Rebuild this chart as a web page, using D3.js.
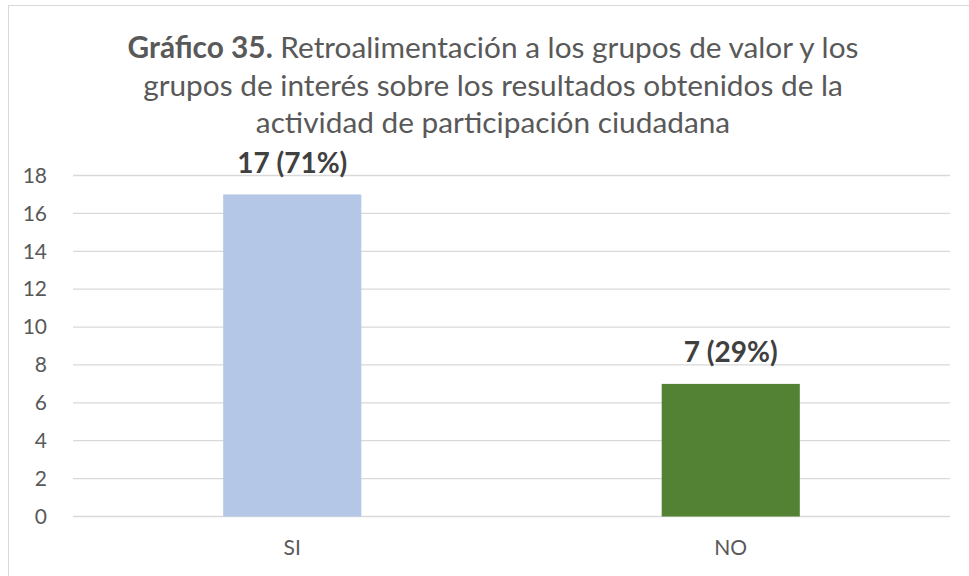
<!DOCTYPE html>
<html>
<head>
<meta charset="utf-8">
<script src="https://cdn.jsdelivr.net/npm/d3@7"></script>
<style>
  body { margin: 0; background: #fff; }
  text { font-family: Lato, "Open Sans", sans-serif; }
</style>
</head>
<body>
<div id="chart"></div>
<script>
const categories = ['SI', 'NO'];
const values = [17, 7];
const labels = ['17 (71%)', '7 (29%)'];
const colors = ['#B4C7E7', '#548235'];
const yTicks = [0, 2, 4, 6, 8, 10, 12, 14, 16, 18];
const titleBold = 'Gráfico 35.';
const titleLines = [
    ' Retroalimentación a los grupos de valor y los',
    'grupos de interés sobre los resultados obtenidos de la',
    'actividad de participación ciudadana'
];

const svgWidth = 969;
const svgHeight = 576;
const plot = { left: 73, right: 950, top: 175.5, bottom: 516.5 };

const svg = d3.select('#chart')
            .append('svg')
            .attr('width', svgWidth)
            .attr('height', svgHeight);

// chart frame (only top and left edges are in view)
svg.append('rect')
    .attr('x', 8.5).attr('y', 5.5)
    .attr('width', 1000).attr('height', 700)
    .attr('fill', '#fff')
    .attr('stroke', '#D9D9D9');

const x = d3.scaleBand()
            .domain(categories)
            .range([plot.left, plot.right]);
const y = d3.scaleLinear()
            .domain([0, 18])
            .range([plot.bottom, plot.top]);

const barWidth = x.bandwidth() * 0.315;

// gridlines
svg.append('g')
    .selectAll('line').data(yTicks).enter().append('line')
    .attr('x1', plot.left).attr('x2', plot.right)
    .attr('y1', d => y(d)).attr('y2', d => y(d))
    .attr('stroke', '#D9D9D9')
    .attr('stroke-width', 1.3);

// y axis labels
const leftAxis = d3.axisLeft(y).tickValues(yTicks).tickSize(0).tickPadding(26);
const yAxis = svg.append('g').attr('transform', `translate(${plot.left},0)`).call(leftAxis);
yAxis.select('.domain').remove();
yAxis.selectAll('text')
    .attr('fill', '#595959')
    .attr('font-size', 21)
    .attr('font-family', 'Lato');

// x axis labels
const bottomAxis = d3.axisBottom(x).tickSize(0).tickPadding(0);
const xAxis = svg.append('g').attr('transform', `translate(0,${plot.bottom})`).call(bottomAxis);
xAxis.select('.domain').remove();
xAxis.selectAll('text')
    .attr('y', 38.5)
    .attr('dy', 0)
    .attr('fill', '#595959')
    .attr('font-size', 21)
    .attr('font-family', 'Lato');

// bars
svg.selectAll('rect.bar').data(values).enter().append('rect')
    .attr('class', 'bar')
    .attr('x', (d, i) => x(categories[i]) + x.bandwidth() / 2 - barWidth / 2)
    .attr('y', d => y(d))
    .attr('width', barWidth)
    .attr('height', d => y(0) - y(d))
    .attr('fill', (d, i) => colors[i]);

// data labels
svg.selectAll('text.lbl').data(values).enter().append('text')
    .attr('class', 'lbl')
    .attr('x', (d, i) => x(categories[i]) + x.bandwidth() / 2)
    .attr('y', d => y(d) - 21.5)
    .attr('text-anchor', 'middle')
    .attr('font-size', 28)
    .attr('font-weight', 'bold')
    .attr('fill', '#404040')
    .text((d, i) => labels[i]);

// title
const titleX = 493;
const title = svg.append('g').attr('fill', '#595959').attr('font-size', 29.8);
const t1 = title.append('text')
    .attr('x', titleX)
    .attr('y', 57.5)
    .attr('text-anchor', 'middle');
t1.append('tspan').attr('font-weight', 'bold').text(titleBold);
t1.append('tspan').text(titleLines[0]);
title.selectAll('text.more').data(titleLines.slice(1)).enter().append('text')
    .attr('class', 'more')
    .attr('x', titleX)
    .attr('y', (d, i) => 95.5 + i * 37.7)
    .attr('text-anchor', 'middle')
    .text(d => d);
</script>
</body>
</html>
